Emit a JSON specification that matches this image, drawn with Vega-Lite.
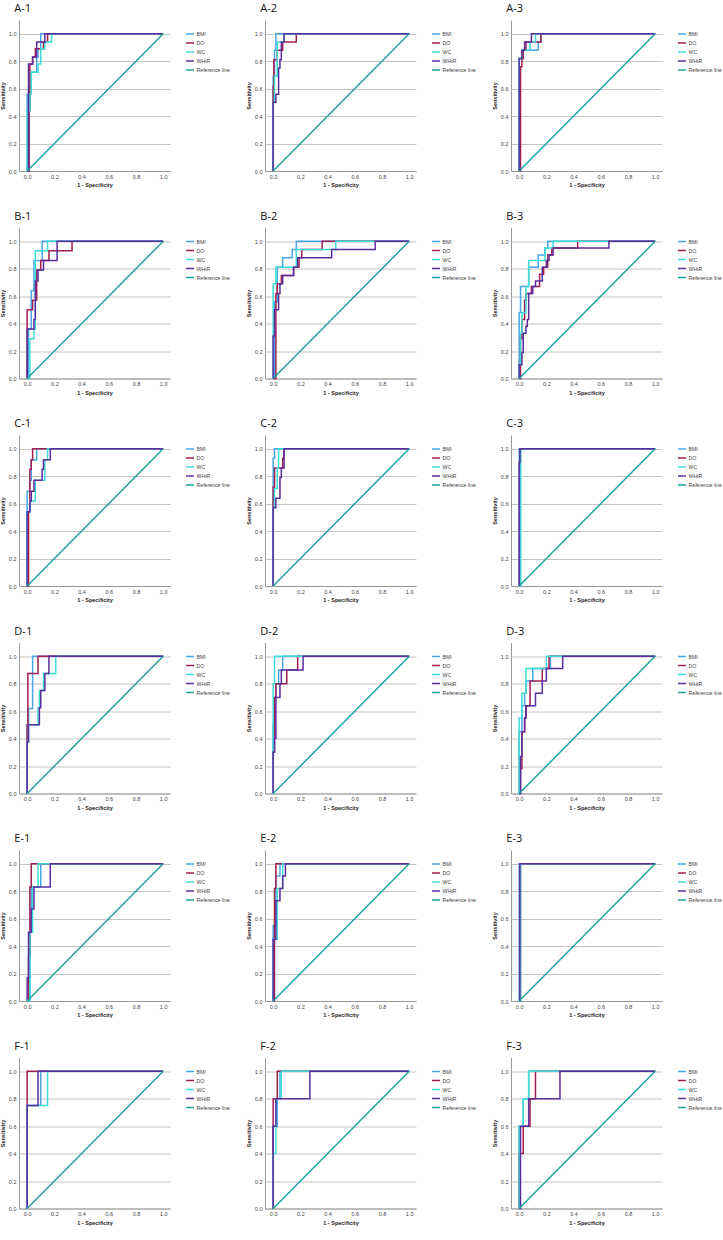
{
"$schema":"https://vega.github.io/schema/vega-lite/v6.json",
"padding":{"left":0,"top":3,"right":0,"bottom":0},
"datasets":{
"ref":[{"x":0,"y":0},{"x":1,"y":1}],
"roc":[
{"p":"A1","s":"BMI","x":0,"y":0},{"p":"A1","s":"BMI","x":0,"y":0.56},{"p":"A1","s":"BMI","x":0.01,"y":0.61},{"p":"A1","s":"BMI","x":0.03,"y":0.72},{"p":"A1","s":"BMI","x":0.07,"y":0.83},{"p":"A1","s":"BMI","x":0.08,"y":0.89},{"p":"A1","s":"BMI","x":0.1,"y":1},{"p":"A1","s":"BMI","x":1,"y":1},
{"p":"A1","s":"DO","x":0,"y":0},{"p":"A1","s":"DO","x":0.015,"y":0.44},{"p":"A1","s":"DO","x":0.02,"y":0.78},{"p":"A1","s":"DO","x":0.04,"y":0.83},{"p":"A1","s":"DO","x":0.06,"y":0.89},{"p":"A1","s":"DO","x":0.12,"y":0.94},{"p":"A1","s":"DO","x":0.15,"y":1},{"p":"A1","s":"DO","x":1,"y":1},
{"p":"A1","s":"WC","x":0,"y":0},{"p":"A1","s":"WC","x":0,"y":0.44},{"p":"A1","s":"WC","x":0.02,"y":0.56},{"p":"A1","s":"WC","x":0.03,"y":0.72},{"p":"A1","s":"WC","x":0.08,"y":0.78},{"p":"A1","s":"WC","x":0.1,"y":0.89},{"p":"A1","s":"WC","x":0.13,"y":0.94},{"p":"A1","s":"WC","x":0.18,"y":1},{"p":"A1","s":"WC","x":1,"y":1},
{"p":"A1","s":"WHtR","x":0,"y":0},{"p":"A1","s":"WHtR","x":0.01,"y":0.78},{"p":"A1","s":"WHtR","x":0.04,"y":0.83},{"p":"A1","s":"WHtR","x":0.07,"y":0.94},{"p":"A1","s":"WHtR","x":0.13,"y":1},{"p":"A1","s":"WHtR","x":1,"y":1},

{"p":"A2","s":"BMI","x":0,"y":0},{"p":"A2","s":"BMI","x":0,"y":0.69},{"p":"A2","s":"BMI","x":0.01,"y":0.88},{"p":"A2","s":"BMI","x":0.02,"y":1},{"p":"A2","s":"BMI","x":1,"y":1},
{"p":"A2","s":"DO","x":0,"y":0},{"p":"A2","s":"DO","x":0,"y":0.62},{"p":"A2","s":"DO","x":0.005,"y":0.81},{"p":"A2","s":"DO","x":0.03,"y":0.88},{"p":"A2","s":"DO","x":0.07,"y":0.94},{"p":"A2","s":"DO","x":0.17,"y":1},{"p":"A2","s":"DO","x":1,"y":1},
{"p":"A2","s":"WC","x":0,"y":0},{"p":"A2","s":"WC","x":0,"y":0.5},{"p":"A2","s":"WC","x":0.01,"y":0.69},{"p":"A2","s":"WC","x":0.03,"y":0.94},{"p":"A2","s":"WC","x":0.08,"y":1},{"p":"A2","s":"WC","x":1,"y":1},
{"p":"A2","s":"WHtR","x":0,"y":0},{"p":"A2","s":"WHtR","x":0,"y":0.5},{"p":"A2","s":"WHtR","x":0.02,"y":0.56},{"p":"A2","s":"WHtR","x":0.04,"y":0.75},{"p":"A2","s":"WHtR","x":0.05,"y":0.81},{"p":"A2","s":"WHtR","x":0.06,"y":0.94},{"p":"A2","s":"WHtR","x":0.08,"y":1},{"p":"A2","s":"WHtR","x":1,"y":1},

{"p":"A3","s":"BMI","x":0,"y":0},{"p":"A3","s":"BMI","x":0,"y":0.82},{"p":"A3","s":"BMI","x":0.03,"y":0.88},{"p":"A3","s":"BMI","x":0.14,"y":0.94},{"p":"A3","s":"BMI","x":0.16,"y":1},{"p":"A3","s":"BMI","x":1,"y":1},
{"p":"A3","s":"DO","x":0,"y":0},{"p":"A3","s":"DO","x":0.01,"y":0.76},{"p":"A3","s":"DO","x":0.02,"y":0.82},{"p":"A3","s":"DO","x":0.03,"y":0.88},{"p":"A3","s":"DO","x":0.05,"y":0.94},{"p":"A3","s":"DO","x":0.16,"y":1},{"p":"A3","s":"DO","x":1,"y":1},
{"p":"A3","s":"WC","x":0,"y":0},{"p":"A3","s":"WC","x":0,"y":0.82},{"p":"A3","s":"WC","x":0.02,"y":0.88},{"p":"A3","s":"WC","x":0.08,"y":0.94},{"p":"A3","s":"WC","x":0.12,"y":1},{"p":"A3","s":"WC","x":1,"y":1},
{"p":"A3","s":"WHtR","x":0,"y":0},{"p":"A3","s":"WHtR","x":0,"y":0.82},{"p":"A3","s":"WHtR","x":0.02,"y":0.88},{"p":"A3","s":"WHtR","x":0.04,"y":0.94},{"p":"A3","s":"WHtR","x":0.09,"y":1},{"p":"A3","s":"WHtR","x":1,"y":1},

{"p":"B1","s":"BMI","x":0,"y":0},{"p":"B1","s":"BMI","x":0.01,"y":0.36},{"p":"B1","s":"BMI","x":0.03,"y":0.64},{"p":"B1","s":"BMI","x":0.05,"y":0.86},{"p":"B1","s":"BMI","x":0.11,"y":1},{"p":"B1","s":"BMI","x":1,"y":1},
{"p":"B1","s":"DO","x":0,"y":0},{"p":"B1","s":"DO","x":0,"y":0.5},{"p":"B1","s":"DO","x":0.04,"y":0.57},{"p":"B1","s":"DO","x":0.07,"y":0.79},{"p":"B1","s":"DO","x":0.1,"y":0.86},{"p":"B1","s":"DO","x":0.16,"y":0.93},{"p":"B1","s":"DO","x":0.33,"y":1},{"p":"B1","s":"DO","x":1,"y":1},
{"p":"B1","s":"WC","x":0,"y":0},{"p":"B1","s":"WC","x":0.02,"y":0.29},{"p":"B1","s":"WC","x":0.05,"y":0.36},{"p":"B1","s":"WC","x":0.06,"y":0.93},{"p":"B1","s":"WC","x":0.15,"y":1},{"p":"B1","s":"WC","x":1,"y":1},
{"p":"B1","s":"WHtR","x":0,"y":0},{"p":"B1","s":"WHtR","x":0,"y":0.36},{"p":"B1","s":"WHtR","x":0.05,"y":0.43},{"p":"B1","s":"WHtR","x":0.06,"y":0.71},{"p":"B1","s":"WHtR","x":0.08,"y":0.79},{"p":"B1","s":"WHtR","x":0.12,"y":0.86},{"p":"B1","s":"WHtR","x":0.22,"y":1},{"p":"B1","s":"WHtR","x":1,"y":1},

{"p":"B2","s":"BMI","x":0,"y":0},{"p":"B2","s":"BMI","x":0.01,"y":0.56},{"p":"B2","s":"BMI","x":0.03,"y":0.81},{"p":"B2","s":"BMI","x":0.07,"y":0.88},{"p":"B2","s":"BMI","x":0.14,"y":0.94},{"p":"B2","s":"BMI","x":0.17,"y":1},{"p":"B2","s":"BMI","x":1,"y":1},
{"p":"B2","s":"DO","x":0,"y":0},{"p":"B2","s":"DO","x":0.02,"y":0.62},{"p":"B2","s":"DO","x":0.03,"y":0.69},{"p":"B2","s":"DO","x":0.06,"y":0.75},{"p":"B2","s":"DO","x":0.15,"y":0.81},{"p":"B2","s":"DO","x":0.19,"y":0.88},{"p":"B2","s":"DO","x":0.21,"y":0.94},{"p":"B2","s":"DO","x":0.36,"y":1},{"p":"B2","s":"DO","x":1,"y":1},
{"p":"B2","s":"WC","x":0,"y":0},{"p":"B2","s":"WC","x":0,"y":0.69},{"p":"B2","s":"WC","x":0.02,"y":0.81},{"p":"B2","s":"WC","x":0.17,"y":0.94},{"p":"B2","s":"WC","x":0.46,"y":1},{"p":"B2","s":"WC","x":1,"y":1},
{"p":"B2","s":"WHtR","x":0,"y":0},{"p":"B2","s":"WHtR","x":0,"y":0.31},{"p":"B2","s":"WHtR","x":0.01,"y":0.5},{"p":"B2","s":"WHtR","x":0.04,"y":0.62},{"p":"B2","s":"WHtR","x":0.05,"y":0.69},{"p":"B2","s":"WHtR","x":0.07,"y":0.75},{"p":"B2","s":"WHtR","x":0.15,"y":0.81},{"p":"B2","s":"WHtR","x":0.18,"y":0.88},{"p":"B2","s":"WHtR","x":0.43,"y":0.94},{"p":"B2","s":"WHtR","x":0.75,"y":1},{"p":"B2","s":"WHtR","x":1,"y":1},

{"p":"B3","s":"BMI","x":0,"y":0},{"p":"B3","s":"BMI","x":0,"y":0.48},{"p":"B3","s":"BMI","x":0.01,"y":0.67},{"p":"B3","s":"BMI","x":0.07,"y":0.81},{"p":"B3","s":"BMI","x":0.14,"y":0.9},{"p":"B3","s":"BMI","x":0.19,"y":0.95},{"p":"B3","s":"BMI","x":0.21,"y":1},{"p":"B3","s":"BMI","x":1,"y":1},
{"p":"B3","s":"DO","x":0,"y":0},{"p":"B3","s":"DO","x":0.01,"y":0.29},{"p":"B3","s":"DO","x":0.02,"y":0.43},{"p":"B3","s":"DO","x":0.04,"y":0.57},{"p":"B3","s":"DO","x":0.05,"y":0.62},{"p":"B3","s":"DO","x":0.09,"y":0.67},{"p":"B3","s":"DO","x":0.15,"y":0.76},{"p":"B3","s":"DO","x":0.18,"y":0.81},{"p":"B3","s":"DO","x":0.21,"y":0.9},{"p":"B3","s":"DO","x":0.24,"y":0.95},{"p":"B3","s":"DO","x":0.43,"y":1},{"p":"B3","s":"DO","x":1,"y":1},
{"p":"B3","s":"WC","x":0,"y":0},{"p":"B3","s":"WC","x":0,"y":0.1},{"p":"B3","s":"WC","x":0.01,"y":0.33},{"p":"B3","s":"WC","x":0.02,"y":0.48},{"p":"B3","s":"WC","x":0.05,"y":0.67},{"p":"B3","s":"WC","x":0.07,"y":0.86},{"p":"B3","s":"WC","x":0.19,"y":0.95},{"p":"B3","s":"WC","x":0.25,"y":1},{"p":"B3","s":"WC","x":1,"y":1},
{"p":"B3","s":"WHtR","x":0,"y":0},{"p":"B3","s":"WHtR","x":0,"y":0.1},{"p":"B3","s":"WHtR","x":0.02,"y":0.19},{"p":"B3","s":"WHtR","x":0.03,"y":0.33},{"p":"B3","s":"WHtR","x":0.05,"y":0.38},{"p":"B3","s":"WHtR","x":0.06,"y":0.43},{"p":"B3","s":"WHtR","x":0.07,"y":0.62},{"p":"B3","s":"WHtR","x":0.1,"y":0.67},{"p":"B3","s":"WHtR","x":0.12,"y":0.71},{"p":"B3","s":"WHtR","x":0.17,"y":0.81},{"p":"B3","s":"WHtR","x":0.2,"y":0.86},{"p":"B3","s":"WHtR","x":0.22,"y":0.9},{"p":"B3","s":"WHtR","x":0.25,"y":0.95},{"p":"B3","s":"WHtR","x":0.66,"y":1},{"p":"B3","s":"WHtR","x":1,"y":1},

{"p":"C1","s":"BMI","x":0,"y":0},{"p":"C1","s":"BMI","x":0,"y":0.69},{"p":"C1","s":"BMI","x":0.02,"y":0.77},{"p":"C1","s":"BMI","x":0.03,"y":0.92},{"p":"C1","s":"BMI","x":0.07,"y":1},{"p":"C1","s":"BMI","x":1,"y":1},
{"p":"C1","s":"DO","x":0,"y":0},{"p":"C1","s":"DO","x":0.01,"y":0.54},{"p":"C1","s":"DO","x":0.02,"y":0.85},{"p":"C1","s":"DO","x":0.03,"y":0.92},{"p":"C1","s":"DO","x":0.04,"y":1},{"p":"C1","s":"DO","x":1,"y":1},
{"p":"C1","s":"WC","x":0,"y":0},{"p":"C1","s":"WC","x":0,"y":0.54},{"p":"C1","s":"WC","x":0.02,"y":0.62},{"p":"C1","s":"WC","x":0.06,"y":0.77},{"p":"C1","s":"WC","x":0.13,"y":0.92},{"p":"C1","s":"WC","x":0.15,"y":1},{"p":"C1","s":"WC","x":1,"y":1},
{"p":"C1","s":"WHtR","x":0,"y":0},{"p":"C1","s":"WHtR","x":0,"y":0.54},{"p":"C1","s":"WHtR","x":0.02,"y":0.62},{"p":"C1","s":"WHtR","x":0.03,"y":0.69},{"p":"C1","s":"WHtR","x":0.05,"y":0.77},{"p":"C1","s":"WHtR","x":0.11,"y":0.85},{"p":"C1","s":"WHtR","x":0.12,"y":0.92},{"p":"C1","s":"WHtR","x":0.17,"y":1},{"p":"C1","s":"WHtR","x":1,"y":1},

{"p":"C2","s":"BMI","x":0,"y":0},{"p":"C2","s":"BMI","x":0,"y":0.93},{"p":"C2","s":"BMI","x":0.01,"y":1},{"p":"C2","s":"BMI","x":1,"y":1},
{"p":"C2","s":"DO","x":0,"y":0},{"p":"C2","s":"DO","x":0,"y":0.72},{"p":"C2","s":"DO","x":0.01,"y":0.86},{"p":"C2","s":"DO","x":0.07,"y":0.93},{"p":"C2","s":"DO","x":0.08,"y":1},{"p":"C2","s":"DO","x":1,"y":1},
{"p":"C2","s":"WC","x":0,"y":0},{"p":"C2","s":"WC","x":0,"y":0.57},{"p":"C2","s":"WC","x":0.01,"y":0.71},{"p":"C2","s":"WC","x":0.03,"y":0.86},{"p":"C2","s":"WC","x":0.04,"y":1},{"p":"C2","s":"WC","x":1,"y":1},
{"p":"C2","s":"WHtR","x":0,"y":0},{"p":"C2","s":"WHtR","x":0,"y":0.57},{"p":"C2","s":"WHtR","x":0.02,"y":0.64},{"p":"C2","s":"WHtR","x":0.05,"y":0.79},{"p":"C2","s":"WHtR","x":0.06,"y":0.86},{"p":"C2","s":"WHtR","x":0.08,"y":1},{"p":"C2","s":"WHtR","x":1,"y":1},

{"p":"C3","s":"BMI","x":0,"y":0},{"p":"C3","s":"BMI","x":0,"y":1},{"p":"C3","s":"BMI","x":1,"y":1},
{"p":"C3","s":"DO","x":0,"y":0},{"p":"C3","s":"DO","x":0.008,"y":1},{"p":"C3","s":"DO","x":1,"y":1},
{"p":"C3","s":"WC","x":0,"y":0},{"p":"C3","s":"WC","x":0.012,"y":1},{"p":"C3","s":"WC","x":1,"y":1},
{"p":"C3","s":"WHtR","x":0,"y":0},{"p":"C3","s":"WHtR","x":0,"y":0.9},{"p":"C3","s":"WHtR","x":0.006,"y":1},{"p":"C3","s":"WHtR","x":1,"y":1},

{"p":"D1","s":"BMI","x":0,"y":0},{"p":"D1","s":"BMI","x":0,"y":0.5},{"p":"D1","s":"BMI","x":0.01,"y":0.62},{"p":"D1","s":"BMI","x":0.04,"y":1},{"p":"D1","s":"BMI","x":1,"y":1},
{"p":"D1","s":"DO","x":0,"y":0},{"p":"D1","s":"DO","x":0,"y":0.5},{"p":"D1","s":"DO","x":0.005,"y":0.875},{"p":"D1","s":"DO","x":0.08,"y":1},{"p":"D1","s":"DO","x":1,"y":1},
{"p":"D1","s":"WC","x":0,"y":0},{"p":"D1","s":"WC","x":0,"y":0.375},{"p":"D1","s":"WC","x":0.01,"y":0.5},{"p":"D1","s":"WC","x":0.08,"y":0.625},{"p":"D1","s":"WC","x":0.09,"y":0.75},{"p":"D1","s":"WC","x":0.12,"y":0.875},{"p":"D1","s":"WC","x":0.21,"y":1},{"p":"D1","s":"WC","x":1,"y":1},
{"p":"D1","s":"WHtR","x":0,"y":0},{"p":"D1","s":"WHtR","x":0,"y":0.375},{"p":"D1","s":"WHtR","x":0.01,"y":0.5},{"p":"D1","s":"WHtR","x":0.09,"y":0.625},{"p":"D1","s":"WHtR","x":0.1,"y":0.75},{"p":"D1","s":"WHtR","x":0.13,"y":0.875},{"p":"D1","s":"WHtR","x":0.16,"y":1},{"p":"D1","s":"WHtR","x":1,"y":1},

{"p":"D2","s":"BMI","x":0,"y":0},{"p":"D2","s":"BMI","x":0,"y":0.5},{"p":"D2","s":"BMI","x":0.01,"y":0.7},{"p":"D2","s":"BMI","x":0.02,"y":0.8},{"p":"D2","s":"BMI","x":0.04,"y":0.9},{"p":"D2","s":"BMI","x":0.07,"y":1},{"p":"D2","s":"BMI","x":1,"y":1},
{"p":"D2","s":"DO","x":0,"y":0},{"p":"D2","s":"DO","x":0,"y":0.3},{"p":"D2","s":"DO","x":0.01,"y":0.7},{"p":"D2","s":"DO","x":0.02,"y":0.8},{"p":"D2","s":"DO","x":0.1,"y":0.9},{"p":"D2","s":"DO","x":0.18,"y":1},{"p":"D2","s":"DO","x":1,"y":1},
{"p":"D2","s":"WC","x":0,"y":0},{"p":"D2","s":"WC","x":0,"y":0.8},{"p":"D2","s":"WC","x":0.01,"y":1},{"p":"D2","s":"WC","x":1,"y":1},
{"p":"D2","s":"WHtR","x":0,"y":0},{"p":"D2","s":"WHtR","x":0,"y":0.3},{"p":"D2","s":"WHtR","x":0.01,"y":0.4},{"p":"D2","s":"WHtR","x":0.02,"y":0.7},{"p":"D2","s":"WHtR","x":0.05,"y":0.8},{"p":"D2","s":"WHtR","x":0.06,"y":0.9},{"p":"D2","s":"WHtR","x":0.22,"y":1},{"p":"D2","s":"WHtR","x":1,"y":1},

{"p":"D3","s":"BMI","x":0,"y":0},{"p":"D3","s":"BMI","x":0,"y":0.45},{"p":"D3","s":"BMI","x":0.02,"y":0.64},{"p":"D3","s":"BMI","x":0.04,"y":0.73},{"p":"D3","s":"BMI","x":0.05,"y":0.82},{"p":"D3","s":"BMI","x":0.1,"y":0.91},{"p":"D3","s":"BMI","x":0.23,"y":1},{"p":"D3","s":"BMI","x":1,"y":1},
{"p":"D3","s":"DO","x":0,"y":0},{"p":"D3","s":"DO","x":0.01,"y":0.18},{"p":"D3","s":"DO","x":0.02,"y":0.45},{"p":"D3","s":"DO","x":0.04,"y":0.55},{"p":"D3","s":"DO","x":0.05,"y":0.64},{"p":"D3","s":"DO","x":0.08,"y":0.82},{"p":"D3","s":"DO","x":0.17,"y":0.91},{"p":"D3","s":"DO","x":0.22,"y":1},{"p":"D3","s":"DO","x":1,"y":1},
{"p":"D3","s":"WC","x":0,"y":0},{"p":"D3","s":"WC","x":0,"y":0.55},{"p":"D3","s":"WC","x":0.02,"y":0.73},{"p":"D3","s":"WC","x":0.05,"y":0.91},{"p":"D3","s":"WC","x":0.2,"y":1},{"p":"D3","s":"WC","x":1,"y":1},
{"p":"D3","s":"WHtR","x":0,"y":0},{"p":"D3","s":"WHtR","x":0.01,"y":0.27},{"p":"D3","s":"WHtR","x":0.02,"y":0.45},{"p":"D3","s":"WHtR","x":0.04,"y":0.55},{"p":"D3","s":"WHtR","x":0.05,"y":0.64},{"p":"D3","s":"WHtR","x":0.12,"y":0.73},{"p":"D3","s":"WHtR","x":0.17,"y":0.82},{"p":"D3","s":"WHtR","x":0.2,"y":0.91},{"p":"D3","s":"WHtR","x":0.32,"y":1},{"p":"D3","s":"WHtR","x":1,"y":1},

{"p":"E1","s":"BMI","x":0,"y":0},{"p":"E1","s":"BMI","x":0.02,"y":0.5},{"p":"E1","s":"BMI","x":0.03,"y":0.83},{"p":"E1","s":"BMI","x":0.1,"y":1},{"p":"E1","s":"BMI","x":1,"y":1},
{"p":"E1","s":"DO","x":0,"y":0},{"p":"E1","s":"DO","x":0.01,"y":0.33},{"p":"E1","s":"DO","x":0.02,"y":0.83},{"p":"E1","s":"DO","x":0.03,"y":1},{"p":"E1","s":"DO","x":1,"y":1},
{"p":"E1","s":"WC","x":0,"y":0},{"p":"E1","s":"WC","x":0.02,"y":0.5},{"p":"E1","s":"WC","x":0.04,"y":0.83},{"p":"E1","s":"WC","x":0.08,"y":1},{"p":"E1","s":"WC","x":1,"y":1},
{"p":"E1","s":"WHtR","x":0,"y":0},{"p":"E1","s":"WHtR","x":0,"y":0.17},{"p":"E1","s":"WHtR","x":0.01,"y":0.5},{"p":"E1","s":"WHtR","x":0.03,"y":0.67},{"p":"E1","s":"WHtR","x":0.05,"y":0.83},{"p":"E1","s":"WHtR","x":0.17,"y":1},{"p":"E1","s":"WHtR","x":1,"y":1},

{"p":"E2","s":"BMI","x":0,"y":0},{"p":"E2","s":"BMI","x":0,"y":0.55},{"p":"E2","s":"BMI","x":0.02,"y":0.91},{"p":"E2","s":"BMI","x":0.05,"y":1},{"p":"E2","s":"BMI","x":1,"y":1},
{"p":"E2","s":"DO","x":0,"y":0},{"p":"E2","s":"DO","x":0.01,"y":0.82},{"p":"E2","s":"DO","x":0.02,"y":1},{"p":"E2","s":"DO","x":1,"y":1},
{"p":"E2","s":"WC","x":0,"y":0},{"p":"E2","s":"WC","x":0,"y":0.45},{"p":"E2","s":"WC","x":0.03,"y":0.82},{"p":"E2","s":"WC","x":0.07,"y":1},{"p":"E2","s":"WC","x":1,"y":1},
{"p":"E2","s":"WHtR","x":0,"y":0},{"p":"E2","s":"WHtR","x":0,"y":0.45},{"p":"E2","s":"WHtR","x":0.02,"y":0.73},{"p":"E2","s":"WHtR","x":0.05,"y":0.82},{"p":"E2","s":"WHtR","x":0.07,"y":0.91},{"p":"E2","s":"WHtR","x":0.09,"y":1},{"p":"E2","s":"WHtR","x":1,"y":1},

{"p":"E3","s":"BMI","x":0,"y":0},{"p":"E3","s":"BMI","x":0,"y":1},{"p":"E3","s":"BMI","x":1,"y":1},
{"p":"E3","s":"DO","x":0,"y":0},{"p":"E3","s":"DO","x":0.01,"y":1},{"p":"E3","s":"DO","x":1,"y":1},
{"p":"E3","s":"WC","x":0,"y":0},{"p":"E3","s":"WC","x":0.01,"y":1},{"p":"E3","s":"WC","x":1,"y":1},
{"p":"E3","s":"WHtR","x":0,"y":0},{"p":"E3","s":"WHtR","x":0.005,"y":1},{"p":"E3","s":"WHtR","x":1,"y":1},

{"p":"F1","s":"BMI","x":0,"y":0},{"p":"F1","s":"BMI","x":0,"y":0.75},{"p":"F1","s":"BMI","x":0.1,"y":1},{"p":"F1","s":"BMI","x":1,"y":1},
{"p":"F1","s":"DO","x":0,"y":0},{"p":"F1","s":"DO","x":0,"y":1},{"p":"F1","s":"DO","x":1,"y":1},
{"p":"F1","s":"WC","x":0,"y":0},{"p":"F1","s":"WC","x":0,"y":0.75},{"p":"F1","s":"WC","x":0.15,"y":1},{"p":"F1","s":"WC","x":1,"y":1},
{"p":"F1","s":"WHtR","x":0,"y":0},{"p":"F1","s":"WHtR","x":0,"y":0.75},{"p":"F1","s":"WHtR","x":0.08,"y":1},{"p":"F1","s":"WHtR","x":1,"y":1},

{"p":"F2","s":"BMI","x":0,"y":0},{"p":"F2","s":"BMI","x":0,"y":0.6},{"p":"F2","s":"BMI","x":0.03,"y":0.8},{"p":"F2","s":"BMI","x":0.05,"y":1},{"p":"F2","s":"BMI","x":1,"y":1},
{"p":"F2","s":"DO","x":0,"y":0},{"p":"F2","s":"DO","x":0,"y":0.8},{"p":"F2","s":"DO","x":0.03,"y":1},{"p":"F2","s":"DO","x":1,"y":1},
{"p":"F2","s":"WC","x":0,"y":0},{"p":"F2","s":"WC","x":0,"y":0.4},{"p":"F2","s":"WC","x":0.02,"y":0.8},{"p":"F2","s":"WC","x":0.06,"y":1},{"p":"F2","s":"WC","x":1,"y":1},
{"p":"F2","s":"WHtR","x":0,"y":0},{"p":"F2","s":"WHtR","x":0,"y":0.6},{"p":"F2","s":"WHtR","x":0.02,"y":0.8},{"p":"F2","s":"WHtR","x":0.27,"y":1},{"p":"F2","s":"WHtR","x":1,"y":1},

{"p":"F3","s":"BMI","x":0,"y":0},{"p":"F3","s":"BMI","x":0,"y":0.6},{"p":"F3","s":"BMI","x":0.03,"y":0.8},{"p":"F3","s":"BMI","x":0.07,"y":1},{"p":"F3","s":"BMI","x":1,"y":1},
{"p":"F3","s":"DO","x":0,"y":0},{"p":"F3","s":"DO","x":0,"y":0.4},{"p":"F3","s":"DO","x":0.03,"y":0.6},{"p":"F3","s":"DO","x":0.08,"y":0.8},{"p":"F3","s":"DO","x":0.12,"y":1},{"p":"F3","s":"DO","x":1,"y":1},
{"p":"F3","s":"WC","x":0,"y":0},{"p":"F3","s":"WC","x":0,"y":0.6},{"p":"F3","s":"WC","x":0.03,"y":0.8},{"p":"F3","s":"WC","x":0.07,"y":1},{"p":"F3","s":"WC","x":1,"y":1},
{"p":"F3","s":"WHtR","x":0,"y":0},{"p":"F3","s":"WHtR","x":0.01,"y":0.6},{"p":"F3","s":"WHtR","x":0.07,"y":0.8},{"p":"F3","s":"WHtR","x":0.3,"y":1},{"p":"F3","s":"WHtR","x":1,"y":1}
]},
"data":{"name":"roc"},
"columns":3,
"spacing":{"row":22.5,"column":16},
"resolve":{"scale":{"color":"independent"},"legend":{"color":"independent"}},
"concat":[
{"title":{"text":"A-1","frame":"bounds","dx":14},"encoding":{"x":{"field":"x","type":"quantitative","scale":{"domain":[-0.06,1.05],"nice":false,"zero":false},"axis":{"format":".1f","values":[0,0.2,0.4,0.6,0.8,1]},"title":"1 - Specificity"},"y":{"field":"y","type":"quantitative","scale":{"domain":[0,1.1],"nice":false},"axis":{"format":".1f","values":[0,0.2,0.4,0.6,0.8,1]},"title":"Sensitivity"}},"layer":[{"transform":[{"filter":"datum.p=='A1'"}],"mark":{"type":"line","interpolate":"step-after"},"encoding":{"color":{"field":"s","type":"nominal","title":null,"scale":{"domain":["BMI","DO","WC","WHtR","Reference line"],"range":["#47A7E6","#A01E50","#3FDCD6","#5B2E9E","#1FA39D"]}},"order":[{"field":"x","type":"quantitative"},{"field":"y","type":"quantitative"}]}},{"data":{"name":"ref"},"mark":"line","encoding":{"color":{"datum":"Reference line"}}}]},
{"title":{"text":"A-2","frame":"bounds","dx":14},"encoding":{"x":{"field":"x","type":"quantitative","scale":{"domain":[-0.06,1.05],"nice":false,"zero":false},"axis":{"format":".1f","values":[0,0.2,0.4,0.6,0.8,1]},"title":"1 - Specificity"},"y":{"field":"y","type":"quantitative","scale":{"domain":[0,1.1],"nice":false},"axis":{"format":".1f","values":[0,0.2,0.4,0.6,0.8,1]},"title":"Sensitivity"}},"layer":[{"transform":[{"filter":"datum.p=='A2'"}],"mark":{"type":"line","interpolate":"step-after"},"encoding":{"color":{"field":"s","type":"nominal","title":null,"scale":{"domain":["BMI","DO","WC","WHtR","Reference line"],"range":["#47A7E6","#A01E50","#3FDCD6","#5B2E9E","#1FA39D"]}},"order":[{"field":"x","type":"quantitative"},{"field":"y","type":"quantitative"}]}},{"data":{"name":"ref"},"mark":"line","encoding":{"color":{"datum":"Reference line"}}}]},
{"title":{"text":"A-3","frame":"bounds","dx":14},"encoding":{"x":{"field":"x","type":"quantitative","scale":{"domain":[-0.06,1.05],"nice":false,"zero":false},"axis":{"format":".1f","values":[0,0.2,0.4,0.6,0.8,1]},"title":"1 - Specificity"},"y":{"field":"y","type":"quantitative","scale":{"domain":[0,1.1],"nice":false},"axis":{"format":".1f","values":[0,0.2,0.4,0.6,0.8,1]},"title":"Sensitivity"}},"layer":[{"transform":[{"filter":"datum.p=='A3'"}],"mark":{"type":"line","interpolate":"step-after"},"encoding":{"color":{"field":"s","type":"nominal","title":null,"scale":{"domain":["BMI","DO","WC","WHtR","Reference line"],"range":["#47A7E6","#A01E50","#3FDCD6","#5B2E9E","#1FA39D"]}},"order":[{"field":"x","type":"quantitative"},{"field":"y","type":"quantitative"}]}},{"data":{"name":"ref"},"mark":"line","encoding":{"color":{"datum":"Reference line"}}}]},
{"title":{"text":"B-1","frame":"bounds","dx":14},"encoding":{"x":{"field":"x","type":"quantitative","scale":{"domain":[-0.06,1.05],"nice":false,"zero":false},"axis":{"format":".1f","values":[0,0.2,0.4,0.6,0.8,1]},"title":"1 - Specificity"},"y":{"field":"y","type":"quantitative","scale":{"domain":[0,1.1],"nice":false},"axis":{"format":".1f","values":[0,0.2,0.4,0.6,0.8,1]},"title":"Sensitivity"}},"layer":[{"transform":[{"filter":"datum.p=='B1'"}],"mark":{"type":"line","interpolate":"step-after"},"encoding":{"color":{"field":"s","type":"nominal","title":null,"scale":{"domain":["BMI","DO","WC","WHtR","Reference line"],"range":["#47A7E6","#A01E50","#3FDCD6","#5B2E9E","#1FA39D"]}},"order":[{"field":"x","type":"quantitative"},{"field":"y","type":"quantitative"}]}},{"data":{"name":"ref"},"mark":"line","encoding":{"color":{"datum":"Reference line"}}}]},
{"title":{"text":"B-2","frame":"bounds","dx":14},"encoding":{"x":{"field":"x","type":"quantitative","scale":{"domain":[-0.06,1.05],"nice":false,"zero":false},"axis":{"format":".1f","values":[0,0.2,0.4,0.6,0.8,1]},"title":"1 - Specificity"},"y":{"field":"y","type":"quantitative","scale":{"domain":[0,1.1],"nice":false},"axis":{"format":".1f","values":[0,0.2,0.4,0.6,0.8,1]},"title":"Sensitivity"}},"layer":[{"transform":[{"filter":"datum.p=='B2'"}],"mark":{"type":"line","interpolate":"step-after"},"encoding":{"color":{"field":"s","type":"nominal","title":null,"scale":{"domain":["BMI","DO","WC","WHtR","Reference line"],"range":["#47A7E6","#A01E50","#3FDCD6","#5B2E9E","#1FA39D"]}},"order":[{"field":"x","type":"quantitative"},{"field":"y","type":"quantitative"}]}},{"data":{"name":"ref"},"mark":"line","encoding":{"color":{"datum":"Reference line"}}}]},
{"title":{"text":"B-3","frame":"bounds","dx":14},"encoding":{"x":{"field":"x","type":"quantitative","scale":{"domain":[-0.06,1.05],"nice":false,"zero":false},"axis":{"format":".1f","values":[0,0.2,0.4,0.6,0.8,1]},"title":"1 - Specificity"},"y":{"field":"y","type":"quantitative","scale":{"domain":[0,1.1],"nice":false},"axis":{"format":".1f","values":[0,0.2,0.4,0.6,0.8,1]},"title":"Sensitivity"}},"layer":[{"transform":[{"filter":"datum.p=='B3'"}],"mark":{"type":"line","interpolate":"step-after"},"encoding":{"color":{"field":"s","type":"nominal","title":null,"scale":{"domain":["BMI","DO","WC","WHtR","Reference line"],"range":["#47A7E6","#A01E50","#3FDCD6","#5B2E9E","#1FA39D"]}},"order":[{"field":"x","type":"quantitative"},{"field":"y","type":"quantitative"}]}},{"data":{"name":"ref"},"mark":"line","encoding":{"color":{"datum":"Reference line"}}}]},
{"title":{"text":"C-1","frame":"bounds","dx":14},"encoding":{"x":{"field":"x","type":"quantitative","scale":{"domain":[-0.06,1.05],"nice":false,"zero":false},"axis":{"format":".1f","values":[0,0.2,0.4,0.6,0.8,1]},"title":"1 - Specificity"},"y":{"field":"y","type":"quantitative","scale":{"domain":[0,1.1],"nice":false},"axis":{"format":".1f","values":[0,0.2,0.4,0.6,0.8,1]},"title":"Sensitivity"}},"layer":[{"transform":[{"filter":"datum.p=='C1'"}],"mark":{"type":"line","interpolate":"step-after"},"encoding":{"color":{"field":"s","type":"nominal","title":null,"scale":{"domain":["BMI","DO","WC","WHtR","Reference line"],"range":["#47A7E6","#A01E50","#3FDCD6","#5B2E9E","#1FA39D"]}},"order":[{"field":"x","type":"quantitative"},{"field":"y","type":"quantitative"}]}},{"data":{"name":"ref"},"mark":"line","encoding":{"color":{"datum":"Reference line"}}}]},
{"title":{"text":"C-2","frame":"bounds","dx":14},"encoding":{"x":{"field":"x","type":"quantitative","scale":{"domain":[-0.06,1.05],"nice":false,"zero":false},"axis":{"format":".1f","values":[0,0.2,0.4,0.6,0.8,1]},"title":"1 - Specificity"},"y":{"field":"y","type":"quantitative","scale":{"domain":[0,1.1],"nice":false},"axis":{"format":".1f","values":[0,0.2,0.4,0.6,0.8,1]},"title":"Sensitivity"}},"layer":[{"transform":[{"filter":"datum.p=='C2'"}],"mark":{"type":"line","interpolate":"step-after"},"encoding":{"color":{"field":"s","type":"nominal","title":null,"scale":{"domain":["BMI","DO","WC","WHtR","Reference line"],"range":["#47A7E6","#A01E50","#3FDCD6","#5B2E9E","#1FA39D"]}},"order":[{"field":"x","type":"quantitative"},{"field":"y","type":"quantitative"}]}},{"data":{"name":"ref"},"mark":"line","encoding":{"color":{"datum":"Reference line"}}}]},
{"title":{"text":"C-3","frame":"bounds","dx":14},"encoding":{"x":{"field":"x","type":"quantitative","scale":{"domain":[-0.06,1.05],"nice":false,"zero":false},"axis":{"format":".1f","values":[0,0.2,0.4,0.6,0.8,1]},"title":"1 - Specificity"},"y":{"field":"y","type":"quantitative","scale":{"domain":[0,1.1],"nice":false},"axis":{"format":".1f","values":[0,0.2,0.4,0.6,0.8,1]},"title":"Sensitivity"}},"layer":[{"transform":[{"filter":"datum.p=='C3'"}],"mark":{"type":"line","interpolate":"step-after"},"encoding":{"color":{"field":"s","type":"nominal","title":null,"scale":{"domain":["BMI","DO","WC","WHtR","Reference line"],"range":["#47A7E6","#A01E50","#3FDCD6","#5B2E9E","#1FA39D"]}},"order":[{"field":"x","type":"quantitative"},{"field":"y","type":"quantitative"}]}},{"data":{"name":"ref"},"mark":"line","encoding":{"color":{"datum":"Reference line"}}}]},
{"title":{"text":"D-1","frame":"bounds","dx":14},"encoding":{"x":{"field":"x","type":"quantitative","scale":{"domain":[-0.06,1.05],"nice":false,"zero":false},"axis":{"format":".1f","values":[0,0.2,0.4,0.6,0.8,1]},"title":"1 - Specificity"},"y":{"field":"y","type":"quantitative","scale":{"domain":[0,1.1],"nice":false},"axis":{"format":".1f","values":[0,0.2,0.4,0.6,0.8,1]},"title":"Sensitivity"}},"layer":[{"transform":[{"filter":"datum.p=='D1'"}],"mark":{"type":"line","interpolate":"step-after"},"encoding":{"color":{"field":"s","type":"nominal","title":null,"scale":{"domain":["BMI","DO","WC","WHtR","Reference line"],"range":["#47A7E6","#A01E50","#3FDCD6","#5B2E9E","#1FA39D"]}},"order":[{"field":"x","type":"quantitative"},{"field":"y","type":"quantitative"}]}},{"data":{"name":"ref"},"mark":"line","encoding":{"color":{"datum":"Reference line"}}}]},
{"title":{"text":"D-2","frame":"bounds","dx":14},"encoding":{"x":{"field":"x","type":"quantitative","scale":{"domain":[-0.06,1.05],"nice":false,"zero":false},"axis":{"format":".1f","values":[0,0.2,0.4,0.6,0.8,1]},"title":"1 - Specificity"},"y":{"field":"y","type":"quantitative","scale":{"domain":[0,1.1],"nice":false},"axis":{"format":".1f","values":[0,0.2,0.4,0.6,0.8,1]},"title":"Sensitivity"}},"layer":[{"transform":[{"filter":"datum.p=='D2'"}],"mark":{"type":"line","interpolate":"step-after"},"encoding":{"color":{"field":"s","type":"nominal","title":null,"scale":{"domain":["BMI","DO","WC","WHtR","Reference line"],"range":["#47A7E6","#A01E50","#3FDCD6","#5B2E9E","#1FA39D"]}},"order":[{"field":"x","type":"quantitative"},{"field":"y","type":"quantitative"}]}},{"data":{"name":"ref"},"mark":"line","encoding":{"color":{"datum":"Reference line"}}}]},
{"title":{"text":"D-3","frame":"bounds","dx":14},"encoding":{"x":{"field":"x","type":"quantitative","scale":{"domain":[-0.06,1.05],"nice":false,"zero":false},"axis":{"format":".1f","values":[0,0.2,0.4,0.6,0.8,1]},"title":"1 - Specificity"},"y":{"field":"y","type":"quantitative","scale":{"domain":[0,1.1],"nice":false},"axis":{"format":".1f","values":[0,0.2,0.4,0.6,0.8,1]},"title":"Sensitivity"}},"layer":[{"transform":[{"filter":"datum.p=='D3'"}],"mark":{"type":"line","interpolate":"step-after"},"encoding":{"color":{"field":"s","type":"nominal","title":null,"scale":{"domain":["BMI","DO","WC","WHtR","Reference line"],"range":["#47A7E6","#A01E50","#3FDCD6","#5B2E9E","#1FA39D"]}},"order":[{"field":"x","type":"quantitative"},{"field":"y","type":"quantitative"}]}},{"data":{"name":"ref"},"mark":"line","encoding":{"color":{"datum":"Reference line"}}}]},
{"title":{"text":"E-1","frame":"bounds","dx":14},"encoding":{"x":{"field":"x","type":"quantitative","scale":{"domain":[-0.06,1.05],"nice":false,"zero":false},"axis":{"format":".1f","values":[0,0.2,0.4,0.6,0.8,1]},"title":"1 - Specificity"},"y":{"field":"y","type":"quantitative","scale":{"domain":[0,1.1],"nice":false},"axis":{"format":".1f","values":[0,0.2,0.4,0.6,0.8,1]},"title":"Sensitivity"}},"layer":[{"transform":[{"filter":"datum.p=='E1'"}],"mark":{"type":"line","interpolate":"step-after"},"encoding":{"color":{"field":"s","type":"nominal","title":null,"scale":{"domain":["BMI","DO","WC","WHtR","Reference line"],"range":["#47A7E6","#A01E50","#3FDCD6","#5B2E9E","#1FA39D"]}},"order":[{"field":"x","type":"quantitative"},{"field":"y","type":"quantitative"}]}},{"data":{"name":"ref"},"mark":"line","encoding":{"color":{"datum":"Reference line"}}}]},
{"title":{"text":"E-2","frame":"bounds","dx":14},"encoding":{"x":{"field":"x","type":"quantitative","scale":{"domain":[-0.06,1.05],"nice":false,"zero":false},"axis":{"format":".1f","values":[0,0.2,0.4,0.6,0.8,1]},"title":"1 - Specificity"},"y":{"field":"y","type":"quantitative","scale":{"domain":[0,1.1],"nice":false},"axis":{"format":".1f","values":[0,0.2,0.4,0.6,0.8,1]},"title":"Sensitivity"}},"layer":[{"transform":[{"filter":"datum.p=='E2'"}],"mark":{"type":"line","interpolate":"step-after"},"encoding":{"color":{"field":"s","type":"nominal","title":null,"scale":{"domain":["BMI","DO","WC","WHtR","Reference line"],"range":["#47A7E6","#A01E50","#3FDCD6","#5B2E9E","#1FA39D"]}},"order":[{"field":"x","type":"quantitative"},{"field":"y","type":"quantitative"}]}},{"data":{"name":"ref"},"mark":"line","encoding":{"color":{"datum":"Reference line"}}}]},
{"title":{"text":"E-3","frame":"bounds","dx":14},"encoding":{"x":{"field":"x","type":"quantitative","scale":{"domain":[-0.06,1.05],"nice":false,"zero":false},"axis":{"format":".1f","values":[0,0.2,0.4,0.6,0.8,1]},"title":"1 - Specificity"},"y":{"field":"y","type":"quantitative","scale":{"domain":[0,1.1],"nice":false},"axis":{"format":".1f","values":[0,0.2,0.4,0.6,0.8,1]},"title":"Sensitivity"}},"layer":[{"transform":[{"filter":"datum.p=='E3'"}],"mark":{"type":"line","interpolate":"step-after"},"encoding":{"color":{"field":"s","type":"nominal","title":null,"scale":{"domain":["BMI","DO","WC","WHtR","Reference line"],"range":["#47A7E6","#A01E50","#3FDCD6","#5B2E9E","#1FA39D"]}},"order":[{"field":"x","type":"quantitative"},{"field":"y","type":"quantitative"}]}},{"data":{"name":"ref"},"mark":"line","encoding":{"color":{"datum":"Reference line"}}}]},
{"title":{"text":"F-1","frame":"bounds","dx":14},"encoding":{"x":{"field":"x","type":"quantitative","scale":{"domain":[-0.06,1.05],"nice":false,"zero":false},"axis":{"format":".1f","values":[0,0.2,0.4,0.6,0.8,1]},"title":"1 - Specificity"},"y":{"field":"y","type":"quantitative","scale":{"domain":[0,1.1],"nice":false},"axis":{"format":".1f","values":[0,0.2,0.4,0.6,0.8,1]},"title":"Sensitivity"}},"layer":[{"transform":[{"filter":"datum.p=='F1'"}],"mark":{"type":"line","interpolate":"step-after"},"encoding":{"color":{"field":"s","type":"nominal","title":null,"scale":{"domain":["BMI","DO","WC","WHtR","Reference line"],"range":["#47A7E6","#A01E50","#3FDCD6","#5B2E9E","#1FA39D"]}},"order":[{"field":"x","type":"quantitative"},{"field":"y","type":"quantitative"}]}},{"data":{"name":"ref"},"mark":"line","encoding":{"color":{"datum":"Reference line"}}}]},
{"title":{"text":"F-2","frame":"bounds","dx":14},"encoding":{"x":{"field":"x","type":"quantitative","scale":{"domain":[-0.06,1.05],"nice":false,"zero":false},"axis":{"format":".1f","values":[0,0.2,0.4,0.6,0.8,1]},"title":"1 - Specificity"},"y":{"field":"y","type":"quantitative","scale":{"domain":[0,1.1],"nice":false},"axis":{"format":".1f","values":[0,0.2,0.4,0.6,0.8,1]},"title":"Sensitivity"}},"layer":[{"transform":[{"filter":"datum.p=='F2'"}],"mark":{"type":"line","interpolate":"step-after"},"encoding":{"color":{"field":"s","type":"nominal","title":null,"scale":{"domain":["BMI","DO","WC","WHtR","Reference line"],"range":["#47A7E6","#A01E50","#3FDCD6","#5B2E9E","#1FA39D"]}},"order":[{"field":"x","type":"quantitative"},{"field":"y","type":"quantitative"}]}},{"data":{"name":"ref"},"mark":"line","encoding":{"color":{"datum":"Reference line"}}}]},
{"title":{"text":"F-3","frame":"bounds","dx":14},"encoding":{"x":{"field":"x","type":"quantitative","scale":{"domain":[-0.06,1.05],"nice":false,"zero":false},"axis":{"format":".1f","values":[0,0.2,0.4,0.6,0.8,1]},"title":"1 - Specificity"},"y":{"field":"y","type":"quantitative","scale":{"domain":[0,1.1],"nice":false},"axis":{"format":".1f","values":[0,0.2,0.4,0.6,0.8,1]},"title":"Sensitivity"}},"layer":[{"transform":[{"filter":"datum.p=='F3'"}],"mark":{"type":"line","interpolate":"step-after"},"encoding":{"color":{"field":"s","type":"nominal","title":null,"scale":{"domain":["BMI","DO","WC","WHtR","Reference line"],"range":["#47A7E6","#A01E50","#3FDCD6","#5B2E9E","#1FA39D"]}},"order":[{"field":"x","type":"quantitative"},{"field":"y","type":"quantitative"}]}},{"data":{"name":"ref"},"mark":"line","encoding":{"color":{"datum":"Reference line"}}}]}
],
"config":{
"view":{"stroke":null,"continuousWidth":151,"continuousHeight":151},
"font":"Liberation Sans",
"title":{"anchor":"start","fontSize":11,"fontWeight":"normal","font":"Open Sans","color":"#111111","offset":6},
"axis":{"labelFontSize":5.5,"titleFontSize":5.5,"titleFontWeight":"bold","labelColor":"#444444","titleColor":"#222222","domainColor":"#999999","ticks":false,"labelPadding":3,"titlePadding":3,"gridColor":"#c4c4c4","labelFont":"Liberation Sans","titleFont":"Liberation Sans"},
"axisX":{"grid":false},
"axisY":{"grid":true},
"legend":{"orient":"none","legendX":166,"legendY":9,"symbolType":"stroke","symbolSize":64,"symbolStrokeWidth":2,"labelFontSize":5.2,"labelColor":"#444444","rowPadding":-2,"labelOffset":1.5,"symbolOffset":0,"padding":0,"labelFont":"Liberation Sans"},
"line":{"strokeWidth":1.5}
}
}
